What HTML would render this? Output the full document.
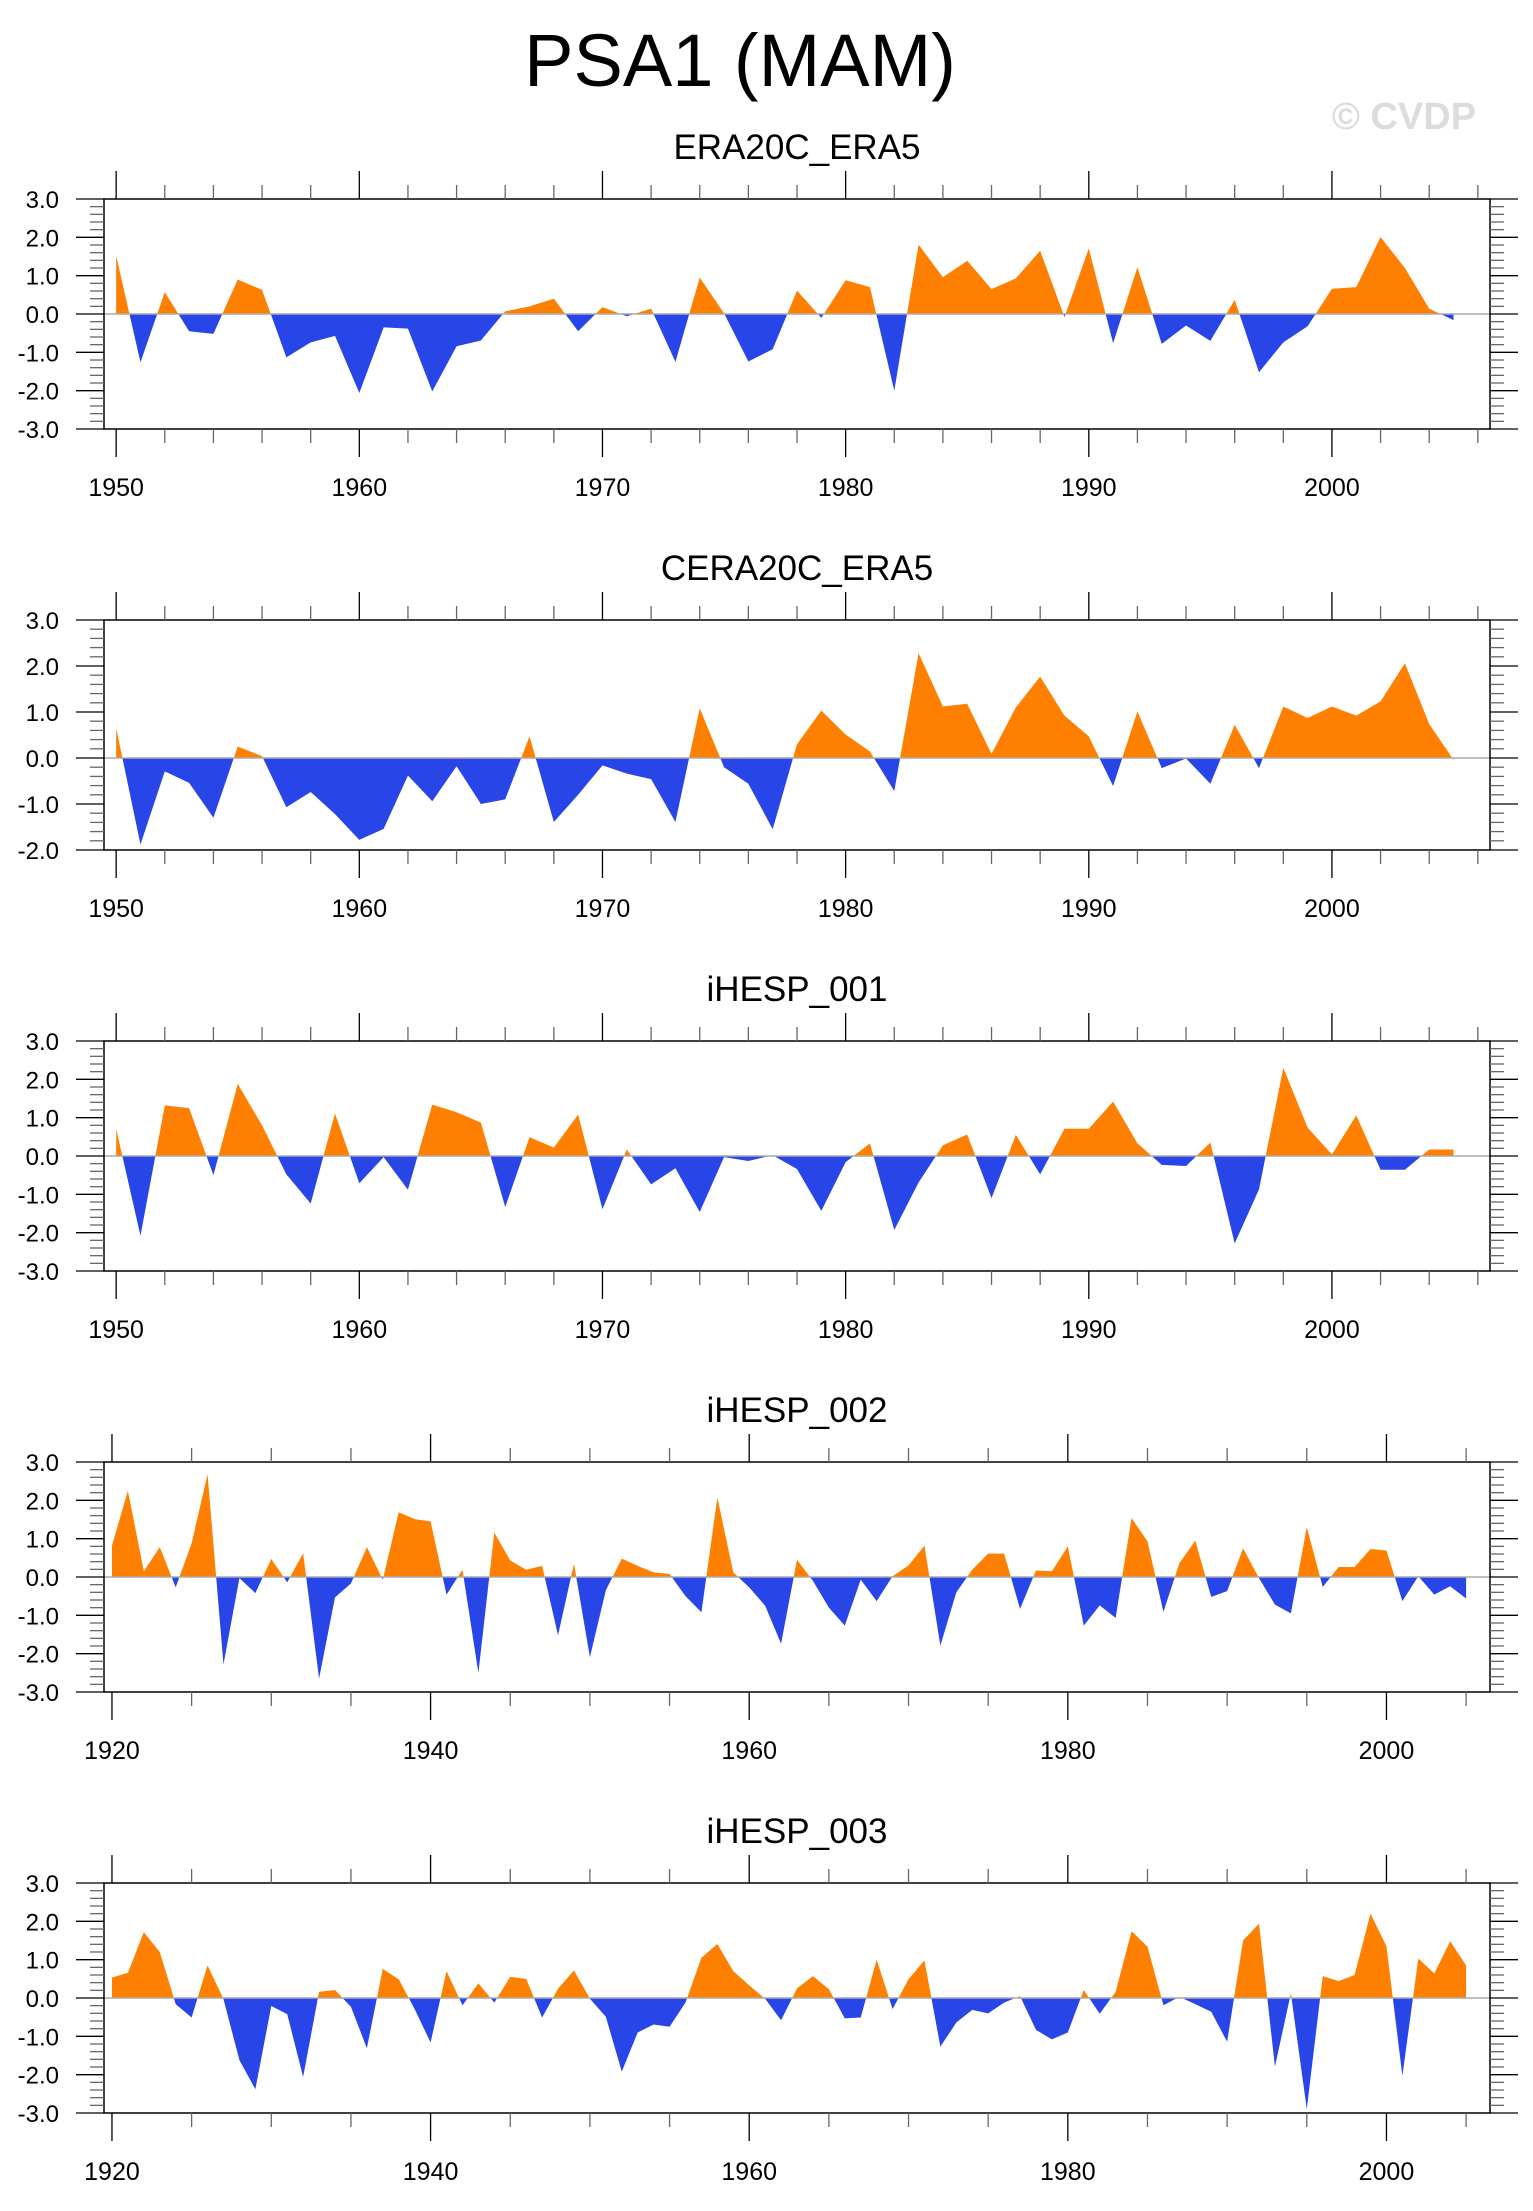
<!DOCTYPE html>
<html><head><meta charset="utf-8"><style>
html,body{margin:0;padding:0;background:#fff}
svg{display:block}
text{font-family:"Liberation Sans",sans-serif}
</style></head><body>
<svg id="chart" width="1533" height="2211" viewBox="0 0 1533 2211" xmlns="http://www.w3.org/2000/svg">
<text x="740" y="86" font-size="74" text-anchor="middle" fill="#000">PSA1 (MAM)</text>
<text x="1404" y="129" font-size="38" font-weight="bold" text-anchor="middle" fill="#dcdcdc">© CVDP</text>
</svg>
<script>
const titles = ["ERA20C_ERA5","CERA20C_ERA5","iHESP_001","iHESP_002","iHESP_003"];
const startYears = [1950,1950,1950,1920,1920];
const yMins = [-3,-2,-3,-3,-3];
const yMaxs = [3,3,3,3,3];
const era20c = [1.52,-1.26,0.57,-0.45,-0.52,0.9,0.63,-1.13,-0.74,-0.57,-2.06,-0.35,-0.38,-2.02,-0.84,-0.69,0.07,0.2,0.4,-0.45,0.18,-0.06,0.14,-1.25,0.95,0.02,-1.24,-0.92,0.61,-0.1,0.88,0.7,-2.0,1.81,0.96,1.39,0.65,0.93,1.65,-0.08,1.71,-0.76,1.22,-0.78,-0.3,-0.7,0.37,-1.52,-0.74,-0.32,0.66,0.7,2.01,1.2,0.14,-0.16];
const cera20c = [0.65,-1.88,-0.29,-0.54,-1.3,0.25,0.04,-1.07,-0.74,-1.22,-1.78,-1.54,-0.38,-0.94,-0.18,-1.0,-0.9,0.47,-1.39,-0.8,-0.16,-0.34,-0.46,-1.39,1.08,-0.2,-0.56,-1.55,0.3,1.03,0.51,0.14,-0.72,2.28,1.12,1.18,0.09,1.1,1.77,0.92,0.47,-0.61,1.01,-0.22,-0.01,-0.56,0.72,-0.22,1.12,0.87,1.12,0.92,1.23,2.06,0.74,-0.04];
const ihesp001 = [0.71,-2.08,1.32,1.25,-0.5,1.88,0.8,-0.48,-1.24,1.11,-0.71,-0.03,-0.88,1.34,1.14,0.87,-1.33,0.49,0.22,1.08,-1.39,0.17,-0.74,-0.32,-1.46,-0.03,-0.13,0.02,-0.34,-1.43,-0.16,0.33,-1.93,-0.69,0.28,0.56,-1.1,0.55,-0.48,0.71,0.71,1.42,0.33,-0.23,-0.26,0.35,-2.28,-0.87,2.3,0.74,0.04,1.06,-0.36,-0.36,0.17,0.17];
const ihesp002 = [0.82,2.25,0.15,0.78,-0.27,0.88,2.68,-2.28,-0.03,-0.42,0.47,-0.14,0.62,-2.65,-0.53,-0.17,0.78,-0.07,1.69,1.51,1.45,-0.46,0.19,-2.5,1.16,0.43,0.19,0.29,-1.52,0.35,-2.09,-0.35,0.48,0.29,0.12,0.08,-0.5,-0.92,2.07,0.12,-0.27,-0.75,-1.74,0.45,-0.1,-0.8,-1.27,-0.07,-0.63,0.02,0.3,0.82,-1.79,-0.4,0.19,0.61,0.61,-0.83,0.17,0.15,0.8,-1.27,-0.74,-1.07,1.54,0.93,-0.91,0.36,0.95,-0.52,-0.37,0.75,-0.03,-0.72,-0.95,1.3,-0.26,0.26,0.26,0.73,0.69,-0.63,0.02,-0.46,-0.24,-0.56];
const ihesp003 = [0.53,0.66,1.72,1.2,-0.16,-0.51,0.85,-0.03,-1.62,-2.38,-0.21,-0.42,-2.06,0.16,0.21,-0.23,-1.31,0.76,0.49,-0.29,-1.16,0.7,-0.19,0.38,-0.12,0.55,0.5,-0.51,0.24,0.72,-0.02,-0.49,-1.92,-0.9,-0.69,-0.75,-0.12,1.05,1.41,0.7,0.33,-0.02,-0.58,0.25,0.57,0.23,-0.53,-0.51,1.0,-0.29,0.49,0.98,-1.27,-0.64,-0.31,-0.4,-0.12,0.05,-0.83,-1.08,-0.9,0.21,-0.41,0.16,1.74,1.34,-0.19,0.03,-0.16,-0.36,-1.14,1.5,1.94,-1.79,0.12,-2.9,0.57,0.44,0.6,2.2,1.35,-2.03,1.03,0.64,1.48,0.85];
const series = [era20c,cera20c,ihesp001,ihesp002,ihesp003];
const panelNames = ["era20c-era5","cera20c-era5","ihesp-001","ihesp-002","ihesp-003"];

const svg = document.getElementById('chart');
const NS = 'http://www.w3.org/2000/svg';
const BOX_L = 104, BOX_R = 1490, BOX_H = 230, TOP0 = 199, STEP = 421, END_YEAR = 2006.5;
function mk(tag, attrs, parent){const e=document.createElementNS(NS,tag);for(const k in attrs)e.setAttribute(k,attrs[k]);(parent||svg).appendChild(e);return e;}

for (let p = 0; p < 5; p++) {
  const top = TOP0 + STEP * p, bot = top + BOX_H;
  const x0 = startYears[p] - 0.5;
  const xs = yr => BOX_L + (yr - x0) / (END_YEAR - x0) * (BOX_R - BOX_L);
  const ys = v => bot - (v - yMins[p]) / (yMaxs[p] - yMins[p]) * BOX_H;
  const g = mk('g', {});
  
  

  const t = mk('text', {x: (BOX_L + BOX_R) / 2, y: top - 40, 'font-size': 35, 'text-anchor': 'middle', fill: '#000'}, g);
  t.textContent = titles[p];
  
  

  const vals = series[p];
  const pts = [];
  for (let i = 0; i < vals.length; i++) {
    if (i > 0 && (vals[i-1] > 0) !== (vals[i] > 0) && vals[i-1] !== 0 && vals[i] !== 0) {
      const f = vals[i-1] / (vals[i-1] - vals[i]);
      pts.push([startYears[p] + i - 1 + f, 0]);
    }
    pts.push([startYears[p] + i, vals[i]]);
  }
  const z = ys(0);
  function poly(fn) {
    let d = 'M' + xs(pts[0][0]).toFixed(2) + ',' + z.toFixed(2);
    for (const q of pts) d += ' L' + xs(q[0]).toFixed(2) + ',' + ys(fn(q[1])).toFixed(2);
    d += ' L' + xs(pts[pts.length-1][0]).toFixed(2) + ',' + z.toFixed(2) + ' Z';
    return d;
  }
  const pos = mk('path', {d: poly(v => Math.max(v, 0)), fill: '#ff8000'}, g);
  
  
  const neg = mk('path', {d: poly(v => Math.min(v, 0)), fill: '#2845e8'}, g);
  
  

  const zl = mk('line', {x1: BOX_L, x2: BOX_R, y1: z, y2: z, stroke: '#aaa', 'stroke-width': 1.5}, g);
  
  

  const box = mk('rect', {x: BOX_L, y: top, width: BOX_R - BOX_L, height: BOX_H, fill: 'none', stroke: '#000', 'stroke-width': 1.5}, g);
  
  

  for (let k = Math.round(yMins[p] * 5); k <= Math.round(yMaxs[p] * 5); k++) {
    const v = k / 5, y = ys(v), major = (k % 5 === 0);
    const len = major ? 28 : 14;
    mk('line', {x1: BOX_L - len, x2: BOX_L, y1: y, y2: y, stroke: major ? '#000' : '#666', 'stroke-width': 1.3}, g);
    mk('line', {x1: BOX_R, x2: BOX_R + len, y1: y, y2: y, stroke: major ? '#000' : '#666', 'stroke-width': 1.3}, g);
    if (major) {
      const lt = mk('text', {x: 59, y: y + 9, 'font-size': 24, 'text-anchor': 'end', fill: '#000'}, g);
      lt.textContent = v.toFixed(1);
      
      
    }
  }
  const minorStep = startYears[p] === 1950 ? 2 : 5, majorStep = startYears[p] === 1950 ? 10 : 20;
  for (let yr = startYears[p]; yr <= END_YEAR; yr += minorStep) {
    const x = xs(yr), major = ((yr - startYears[p]) % majorStep === 0);
    const len = major ? 28 : 14;
    mk('line', {x1: x, x2: x, y1: bot, y2: bot + len, stroke: major ? '#000' : '#666', 'stroke-width': 1.3}, g);
    mk('line', {x1: x, x2: x, y1: top - len, y2: top, stroke: major ? '#000' : '#666', 'stroke-width': 1.3}, g);
    if (major) {
      const lt = mk('text', {x: x, y: bot + 67, 'font-size': 25, 'text-anchor': 'middle', fill: '#000'}, g);
      lt.textContent = String(yr);
      
      
    }
  }
}
</script>
</body></html>
